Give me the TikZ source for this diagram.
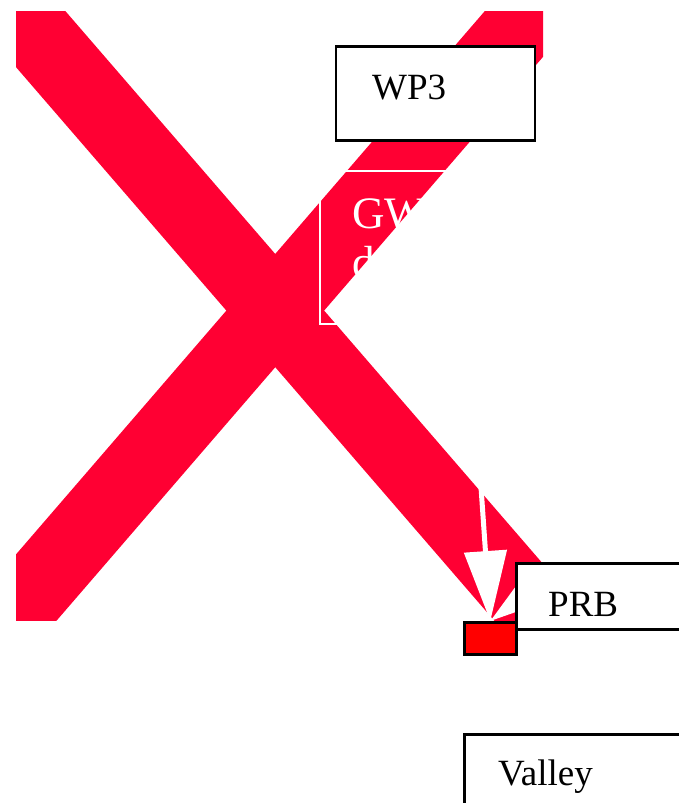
\documentclass[tikz,border=0pt]{standalone}
\usepackage{fontspec}
\setmainfont{Liberation Serif}
\usetikzlibrary{arrows.meta}
\definecolor{xred}{RGB}{255,0,51}
\definecolor{boxred}{RGB}{255,0,0}
\begin{document}
\begin{tikzpicture}[x=1pt,y=-1pt,
  blackbox/.style={draw=black, line width=2.6pt, fill=white, rectangle, inner sep=0pt, anchor=north west},
  whitebox/.style={draw=white, line width=2.4pt, rectangle, inner sep=0pt, anchor=north west},
  lbl/.style={anchor=base west, inner sep=0pt, font=\fontsize{37}{44}\selectfont},
  wlbl/.style={anchor=base west, inner sep=0pt, text=white, font=\fontsize{45}{52}\selectfont},
  cross/.style={draw=xred, line width=74pt},
  warrow/.style={draw=white, line width=5pt, -{Triangle[length=70pt,width=42pt]}}]
\useasboundingbox (0,0) rectangle (679,803);
\begin{scope}
\clip (0,0) rectangle (679,803);
% the big red cross
\begin{scope}
\clip (16,11) rectangle (543,620);
\draw[cross] (-89,-111) -- (648,742);
\draw[cross] (639,-111) -- (-97,742);
\end{scope}
% WP3
\node[blackbox, minimum width=199pt, minimum height=94pt] (wp3) at (334.5,45) {};
\node[lbl] (wp3t) at (372,99) {WP3};
% GW box (white)
\node[whitebox, minimum width=200pt, minimum height=153pt] (gw) at (319,170) {};
\node[wlbl] (gwt1) at (352,228) {GW};
\node[wlbl] (gwt2) at (352,277) {d};
% small red box
\node[blackbox, fill=boxred, minimum width=52pt, minimum height=32pt] (red) at (463,621) {};
% arrows
\coordinate (a1) at (481,487);
\coordinate (a2) at (570,562);
\draw[warrow] (a1) -- (red.north);
\draw[warrow] (a2) -- (red.north);
% PRB
\node[blackbox, minimum width=300pt, minimum height=66pt] (prb) at (515,562) {};
\node[lbl] (prbt) at (548,616) {PRB};
% Valley
\node[blackbox, minimum width=300pt, minimum height=150pt] (valley) at (463,733) {};
\node[lbl] (valleyt) at (498,785) {Valley};
\end{scope}
\end{tikzpicture}
\end{document}
